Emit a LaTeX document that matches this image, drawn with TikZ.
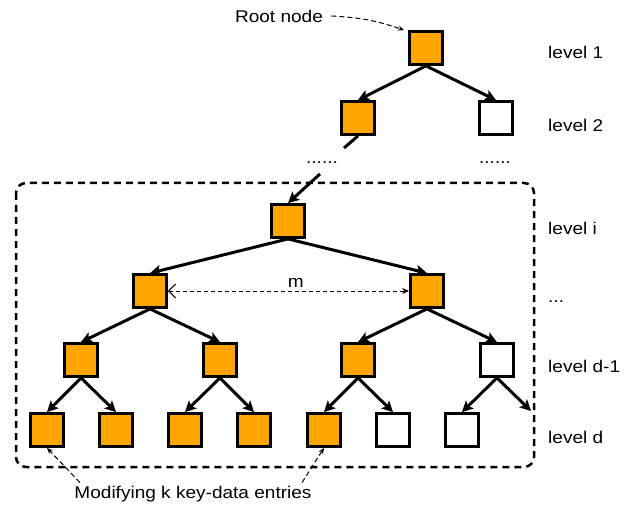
\documentclass[tikz,border=0pt]{standalone}
\usepackage{fontspec}
\setmainfont[FakeStretch=1.12]{Liberation Sans}
\usetikzlibrary{arrows.meta}
\definecolor{hitorange}{RGB}{255,165,0}

\begin{document}
\begin{tikzpicture}[x=1pt, y=-1pt,
  font=\fontsize{17}{20}\selectfont,
  box/.style={draw, line width=2.8pt, minimum size=33pt, inner sep=0pt, fill=white},
  hit/.style={box, fill=hitorange},
  edge/.style={line width=3pt, -{Stealth[length=11pt,width=11pt,inset=2.5pt]}},
  note/.style={line width=1pt, dash pattern=on 5pt off 3pt, -{Stealth[length=6pt,width=5pt]}},
  lbl/.style={anchor=west, inner sep=0pt}]
  \useasboundingbox (0,0) rectangle (627,508);

  % --- upper levels -------------------------------------------------------
  \node[hit] (root) at (426,48) {};
  \node[hit] (a1) at (358,118) {};
  \node[box] (a2) at (496,118) {};
  \node (rootlbl) at (279,16) {Root node};
  \draw[note] ([xshift=5pt]rootlbl.east) to[bend left=8] ([xshift=-4pt]root.north west);
  \draw[edge] (root.south) -- (a1.north);
  \draw[edge] (root.south) -- (a2.north);
  \node (dotsa) at (322,163) {......};
  \node (dotsb) at (495,163) {......};
  \coordinate (gapa) at (344,148);
  \coordinate (gapb) at (320,174);
  \draw[line width=3pt] (a1.south) -- (gapa);

  % --- subtree from level i ----------------------------------------------
  \draw[line width=2.5pt, dash pattern=on 7pt off 5pt, rounded corners=10pt]
       (16,183) rectangle (534,467);
  \node[hit] (ni) at (288,221) {};
  \draw[edge] (gapb) -- (ni.north);
  \node[hit] (b1) at (150,291) {};
  \node[hit] (b2) at (427,291) {};
  \foreach \x/\n/\c in {81/c1/hitorange, 220/c2/hitorange, 358/c3/hitorange, 497/c4/white}
    \node[box, fill=\c] (\n) at (\x,360) {};
  \foreach \x/\n/\c in {47/d1/hitorange, 116/d2/hitorange, 185/d3/hitorange,
                        254/d4/hitorange, 324/d5/hitorange, 393/d6/white, 462/d7/white}
    \node[box, fill=\c] (\n) at (\x,430) {};
  \coordinate (dend) at (531,411);
  \foreach \p/\c in {ni/b1, ni/b2, b1/c1, b1/c2, b2/c3, b2/c4,
                     c1/d1, c1/d2, c2/d3, c2/d4, c3/d5, c3/d6, c4/d7}
    \draw[edge] (\p.south) -- (\c.north);
  \draw[edge] (c4.south) -- (dend);
  \draw[line width=1pt, dash pattern=on 4pt off 3pt,
        {Straight Barb[length=7pt,width=14pt]}-{Stealth[length=7pt,width=6pt]}]
       (b1.east) -- (b2.west) node[pos=0.53, above] (mlbl) {m};

  % --- leaf note ----------------------------------------------------------
  \node (mod) at (193,494) {Modifying k key-data entries};
  \draw[note] ([xshift=9pt]mod.north west) -- (d1.south);
  \draw[note] ([xshift=-13pt]mod.north east) -- (d5.south);

  % --- level labels -------------------------------------------------------
  \node[lbl] (lv1) at (548,52) {level 1};
  \node[lbl] (lv2) at (548,125) {level 2};
  \node[lbl] (lvi) at (548,228) {level i};
  \node[lbl] (lvdots) at (548,302) {...};
  \node[lbl] (lvd1) at (548,366) {level d-1};
  \node[lbl] (lvd) at (548,437) {level d};
\end{tikzpicture}
\end{document}
